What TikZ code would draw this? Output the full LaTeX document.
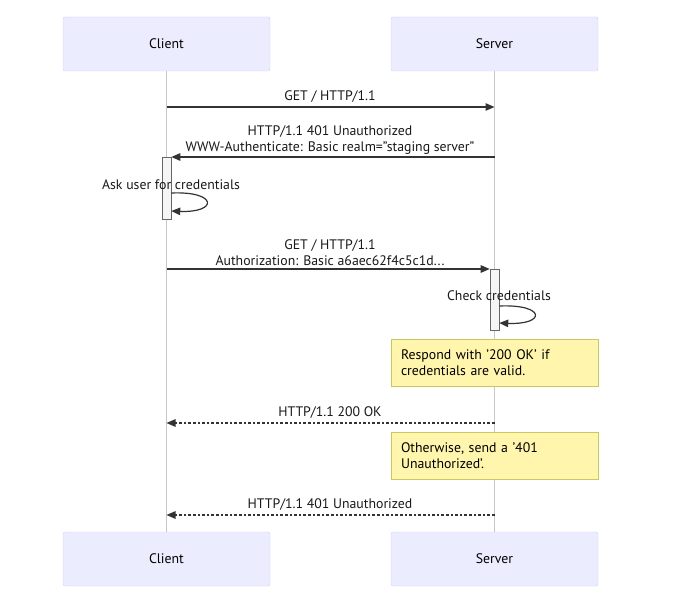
\documentclass[tikz,border=0pt]{standalone}
\usepackage{fontspec}
\setmainfont{PT Sans}
\usetikzlibrary{arrows.meta,positioning,calc}
\definecolor{actorfill}{HTML}{ECECFF}
\definecolor{actorline}{HTML}{D5CCF2}
\definecolor{notefill}{HTML}{FFF5AD}
\definecolor{noteline}{HTML}{C8C860}
\definecolor{msgcol}{HTML}{333333}
\tikzset{
  actor/.style={draw=actorline, fill=actorfill, rounded corners=2pt, minimum width=207pt, minimum height=54pt, font=\fontsize{13.8}{16}\selectfont},
  life/.style={draw=black!22, line width=0.6pt},
  activ/.style={draw=black!60, fill=black!4, line width=0.6pt},
  msg/.style={draw=msgcol, line width=1.2pt, -{Triangle[length=9pt,width=7.5pt]}},
  reply/.style={msg, dash pattern=on 2.6pt off 2pt},
  lbl/.style={font=\fontsize{13.8}{16}\selectfont, text=black!90, align=center, inner sep=0pt},
  notebox/.style={draw=noteline, fill=notefill, line width=0.6pt, minimum width=207pt, minimum height=47pt, text width=187pt, align=left, font=\fontsize{13.8}{16}\selectfont, inner sep=0pt}
}
\begin{document}
\begin{tikzpicture}[x=1pt,y=-1pt]
\useasboundingbox (0,0) rectangle (690,612);
% participants, top and bottom
\node[actor] (client) at (166.5,44) {Client};
\node[actor] (server) at (494.5,44) {Server};
\node[actor] (clientB) at (166.5,559) {Client};
\node[actor] (serverB) at (494.5,559) {Server};
\draw[life] (client) -- (clientB);
\draw[life] (server) -- (serverB);
% activations
\node[activ, minimum width=9pt, minimum height=62pt, inner sep=0pt] (actC) at (166.5,188) {};
\node[activ, minimum width=9pt, minimum height=61pt, inner sep=0pt] (actS) at (494.5,299.5) {};
% messages
\draw[msg] (client |- 0,107) -- (server |- 0,107);
\node[lbl] (m1) at (330,96.5) {GET / HTTP/1.1};
\draw[msg] (server |- 0,157) -- (actC.east |- 0,157);
\node[lbl] (m2) at (330,140.5) {HTTP/1.1 401 Unauthorized\\WWW-Authenticate: Basic realm="staging server"};
\node[lbl] (s1) at (171,184.5) {Ask user for credentials};
\draw[msg] (actC.east |- 0,193) .. controls (218,191) and (218,213) .. (actC.east |- 0,211);
\draw[msg] (client |- 0,269) -- (actS.west |- 0,269);
\node[lbl] (m3) at (330,252.5) {GET / HTTP/1.1\\Authorization: Basic a6aec62f4c5c1d...};
\node[lbl] (s2) at (499,295.5) {Check credentials};
\draw[msg] (actS.east |- 0,306) .. controls (546,304) and (546,325) .. (actS.east |- 0,323);
% notes and replies
\node[notebox] (noteA) at (494.5,362.5) {Respond with '200 OK' if\\credentials are valid.};
\draw[reply] (server |- 0,423) -- (client |- 0,423);
\node[lbl] (m4) at (330,412.5) {HTTP/1.1 200 OK};
\node[notebox] (noteB) at (494.5,455.5) {Otherwise, send a '401\\Unauthorized'.};
\draw[reply] (server |- 0,515) -- (client |- 0,515);
\node[lbl] (m5) at (330,504.5) {HTTP/1.1 401 Unauthorized};
\end{tikzpicture}
\end{document}
